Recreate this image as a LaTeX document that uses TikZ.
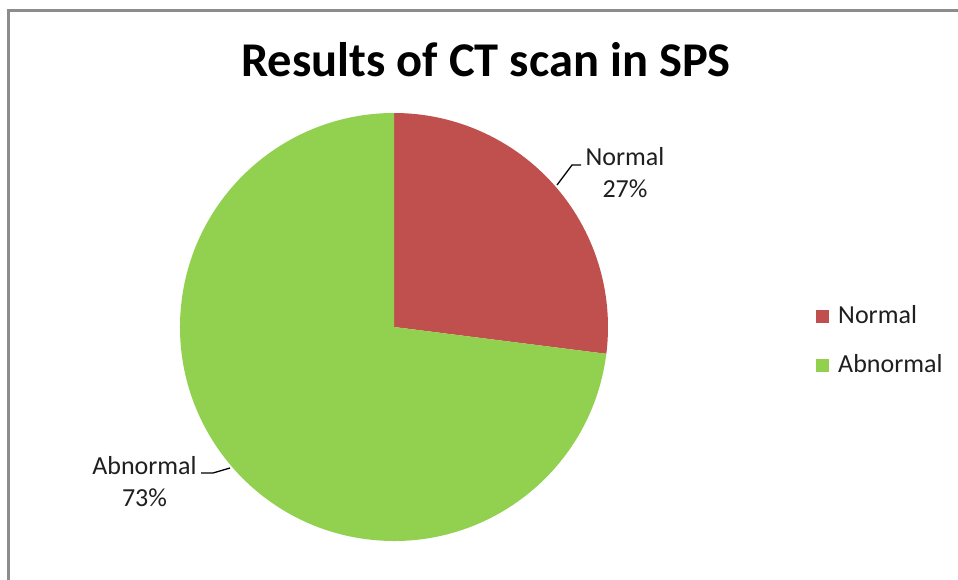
\documentclass[tikz,border=0pt]{standalone}
\usepackage{fontspec}
\setmainfont{Carlito}
\definecolor{slicered}{HTML}{C0504D}
\definecolor{slicegreen}{HTML}{92D050}
\definecolor{framegray}{HTML}{8C8C8C}
\definecolor{txt}{HTML}{1F1F1F}
\begin{document}
\begin{tikzpicture}[x=1pt,y=1pt,
  lbl/.style={font=\fontsize{26}{30}\selectfont, text=txt, anchor=base, inner sep=0pt},
  leglbl/.style={font=\fontsize{26}{30}\selectfont, text=txt, anchor=base west, inner sep=0pt},
  leader/.style={draw=black, line width=1.3pt},
  legbox/.style={minimum width=13pt, minimum height=13pt, inner sep=0pt, anchor=north west}]
\useasboundingbox (0,0) rectangle (958,-580);
\fill[white] (0,0) rectangle (958,-580);
\draw[framegray, line width=3pt] (8.5,-580) -- (8.5,-10.5) -- (958,-10.5);
% title
\node[font=\fontsize{48.5}{58}\selectfont\bfseries, anchor=base, inner sep=0pt] (title) at (486,-77) {Results of CT scan in SPS};
% pie
\coordinate (c) at (394,-327);
\fill[slicered] (c) -- ++(90:214) arc[start angle=90, end angle=-7.2, radius=214] -- cycle;
\fill[slicegreen] (c) -- ++(-7.2:214) arc[start angle=-7.2, end angle=-270, radius=214] -- cycle;
% data labels
\node[lbl] (nl1) at (625,-166) {Normal};
\node[lbl] (nl2) at (625,-197) {27\%};
\node[lbl] (al1) at (144.5,-474) {Abnormal};
\node[lbl] (al2) at (144.5,-506) {73\%};
% leaders
\coordinate (nlA) at (557,-185);
\coordinate (nlB) at (572,-165);
\coordinate (nlC) at (581,-165);
\draw[leader] (nlA) -- (nlB) -- (nlC);
\coordinate (alA) at (230,-468);
\coordinate (alB) at (213,-473);
\coordinate (alC) at (201,-473);
\draw[leader] (alA) -- (alB) -- (alC);
% legend
\node[legbox, fill=slicered] (lg1) at (816,-310) {};
\node[leglbl] (lt1) at (838,-323) {Normal};
\node[legbox, fill=slicegreen] (lg2) at (816,-359) {};
\node[leglbl] (lt2) at (838,-372) {Abnormal};
\end{tikzpicture}
\end{document}
